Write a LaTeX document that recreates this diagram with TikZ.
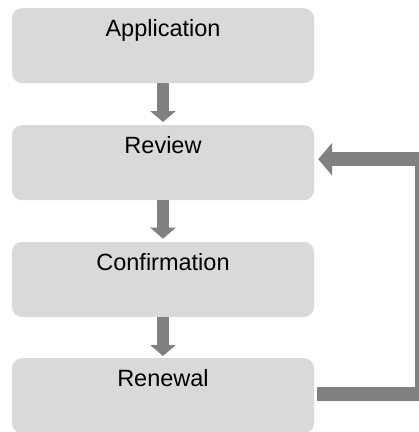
\documentclass[tikz,border=0pt]{standalone}
\usepackage{fontspec}
\setmainfont{Liberation Sans}
\usetikzlibrary{arrows.meta}
\definecolor{boxgray}{HTML}{D9D9D9}
\definecolor{arrowgray}{HTML}{808080}
\begin{document}
\begin{tikzpicture}[x=1pt,y=-1pt,
  stepbox/.style={fill=boxgray, rounded corners=10pt, minimum width=302pt,
    inner xsep=0pt, inner ysep=0pt, text height=28.7pt, text depth=46.3pt,
    font=\fontsize{23.5}{28}\selectfont, anchor=north},
  flow/.style={draw=arrowgray, line width=12.5pt, -{Triangle[length=11pt,width=25pt]}},
  back/.style={draw=arrowgray, line width=14pt, -{Triangle[length=14pt,width=32pt]}}]
\useasboundingbox (0,0) rectangle (419,432);
\node[stepbox] (app) at (163,8) {Application};
\node[stepbox] (rev) at (163,125) {Review};
\node[stepbox] (conf) at (163,241.7) {Confirmation};
\node[stepbox] (ren) at (163,358) {Renewal};
\draw[flow] (app.south) -- ([yshift=3pt]rev.north);
\draw[flow] (rev.south) -- ([yshift=3pt]conf.north);
\draw[flow] (conf.south) -- ([yshift=2pt]ren.north);
\draw[back] ([xshift=3pt,yshift=2pt]ren.east) -- ++(105,0) |- ([xshift=4pt,yshift=3.5pt]rev.east);
\end{tikzpicture}
\end{document}
